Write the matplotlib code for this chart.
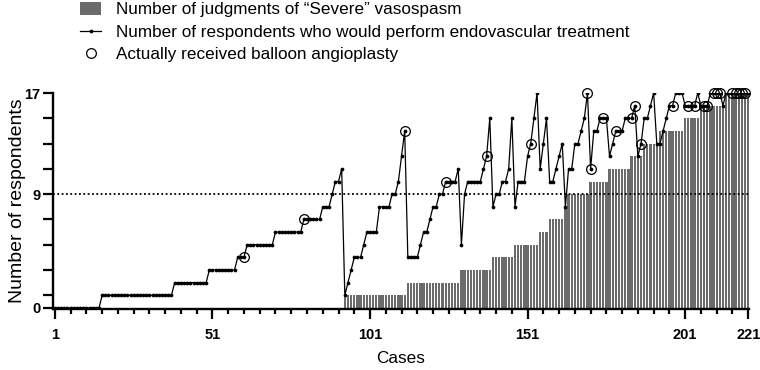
import matplotlib
matplotlib.use("Agg")
import matplotlib.pyplot as plt
from matplotlib.lines import Line2D
from matplotlib.patches import Patch
import numpy as np

plt.rc("font", family=["Liberation Sans", "DejaVu Sans"])

# Cases 1..221
cases = np.arange(1, 222)

# Number of respondents who would perform endovascular treatment (per case)
respondents = [
    0, 0, 0, 0, 0, 0, 0, 0, 0, 0,
    0, 0, 0, 0, 0, 1, 1, 1, 1, 1,
    1, 1, 1, 1, 1, 1, 1, 1, 1, 1,
    1, 1, 1, 1, 1, 1, 1, 1, 2, 2,
    2, 2, 2, 2, 2, 2, 2, 2, 2, 3,
    3, 3, 3, 3, 3, 3, 3, 3, 4, 4,
    4, 5, 5, 5, 5, 5, 5, 5, 5, 5,
    6, 6, 6, 6, 6, 6, 6, 6, 6, 7,
    7, 7, 7, 7, 7, 8, 8, 8, 9, 10,
    10, 11, 1, 2, 3, 4, 4, 4, 5, 6,
    6, 6, 6, 8, 8, 8, 8, 9, 9, 10,
    12, 14, 4, 4, 4, 4, 5, 6, 6, 7,
    8, 8, 9, 9, 10, 10, 10, 10, 11, 5,
    9, 10, 10, 10, 10, 10, 11, 12, 15, 8,
    9, 9, 10, 10, 11, 15, 8, 10, 10, 10,
    12, 13, 15, 17, 11, 13, 15, 10, 10, 11,
    12, 13, 8, 11, 11, 13, 13, 14, 15, 17,
    11, 14, 14, 15, 15, 15, 12, 13, 14, 14,
    14, 15, 15, 15, 16, 12, 13, 15, 15, 16,
    17, 13, 13, 14, 15, 16, 16, 17, 17, 17,
    16, 16, 16, 16, 17, 16, 16, 16, 17, 17,
    17, 17, 16, 17, 17, 17, 17, 17, 17, 17,
    17,
]

# Number of judgments of "Severe" vasospasm (per case)
severe = [
    0, 0, 0, 0, 0, 0, 0, 0, 0, 0,
    0, 0, 0, 0, 0, 0, 0, 0, 0, 0,
    0, 0, 0, 0, 0, 0, 0, 0, 0, 0,
    0, 0, 0, 0, 0, 0, 0, 0, 0, 0,
    0, 0, 0, 0, 0, 0, 0, 0, 0, 0,
    0, 0, 0, 0, 0, 0, 0, 0, 0, 0,
    0, 0, 0, 0, 0, 0, 0, 0, 0, 0,
    0, 0, 0, 0, 0, 0, 0, 0, 0, 0,
    0, 0, 0, 0, 0, 0, 0, 0, 0, 0,
    0, 0, 1, 1, 1, 1, 1, 1, 1, 1,
    1, 1, 1, 1, 1, 1, 1, 1, 1, 1,
    1, 1, 2, 2, 2, 2, 2, 2, 2, 2,
    2, 2, 2, 2, 2, 2, 2, 2, 2, 3,
    3, 3, 3, 3, 3, 3, 3, 3, 3, 4,
    4, 4, 4, 4, 4, 4, 5, 5, 5, 5,
    5, 5, 5, 5, 6, 6, 6, 7, 7, 7,
    7, 7, 8, 9, 9, 9, 9, 9, 9, 9,
    10, 10, 10, 10, 10, 10, 11, 11, 11, 11,
    11, 11, 11, 12, 12, 12, 12, 13, 13, 13,
    13, 13, 14, 14, 14, 14, 14, 14, 14, 14,
    15, 15, 15, 15, 15, 16, 16, 16, 16, 16,
    16, 16, 16, 17, 17, 17, 17, 17, 17, 17,
    17,
]

# Cases that actually received balloon angioplasty
balloon_cases = [61, 80, 112, 125, 138, 152, 170, 171, 175, 179, 184, 185, 187,
                 197, 202, 204, 207, 208, 210, 211, 212, 216, 217, 218, 219, 220]

y_ticks = [0, 9, 17]
y_minor = [1, 3, 5, 7, 11, 13, 15]
x_ticks = [1, 51, 101, 151, 201, 221]

W, H = 760, 370
fig = plt.figure(figsize=(W / 100, H / 100), dpi=100)
ax = fig.add_axes([53 / W, (H - 309.2) / H, 695.5 / W, 216.2 / H])

# Bars
ax.bar(cases, severe, width=0.72, color="#6b6b6b", linewidth=0, zorder=1)

# Reference line at 9
ax.axhline(9, color="black", linestyle=(0, (1, 1.4)), linewidth=1.3, zorder=2)

# Respondents line
ax.plot(cases, respondents, color="black", linewidth=0.9, marker="o",
        markersize=2.7, markerfacecolor="black", markeredgewidth=0, zorder=3)

# Balloon angioplasty circles
resp = np.array(respondents)
bc = np.array(balloon_cases)
ax.plot(bc, resp[bc - 1], linestyle="none", marker="o", markersize=7,
        markerfacecolor="none", markeredgecolor="black", markeredgewidth=0.9,
        zorder=4, clip_on=False)

ax.set_xlim(0.4, 221.1)
ax.set_ylim(-0.1, 17)

for side in ["top", "right"]:
    ax.spines[side].set_visible(False)
for side in ["left", "bottom"]:
    ax.spines[side].set_linewidth(1.7)

ax.set_xticks(x_ticks)
ax.set_xticks(np.arange(6, 221, 5), minor=True)
ax.set_yticks(y_ticks)
ax.set_yticks(y_minor, minor=True)
ax.tick_params(axis="x", which="major", length=7.5, width=1.6, pad=6)
ax.tick_params(axis="x", which="minor", length=3.8, width=1.6)
ax.tick_params(axis="y", which="both", length=7, width=1.6, pad=2)
for lab in ax.get_xticklabels() + ax.get_yticklabels():
    lab.set_fontweight("bold")
    lab.set_fontsize(10.5)

ax.set_xlabel("Cases", fontsize=12.3, labelpad=6.5)
ax.set_ylabel("Number of respondents", fontsize=14, labelpad=-1)

# Legend
handles = [
    Patch(facecolor="#6b6b6b", edgecolor="none"),
    Line2D([], [], color="black", linewidth=0.9, marker="o", markersize=2.7,
           markeredgewidth=0),
    Line2D([], [], linestyle="none", marker="o", markersize=7,
           markerfacecolor="none", markeredgecolor="black", markeredgewidth=0.9),
]
labels = [
    "Number of judgments of \u201cSevere\u201d vasospasm",
    "Number of respondents who would perform endovascular treatment",
    "Actually received balloon angioplasty",
]
fig.legend(handles, labels, loc="upper left", bbox_to_anchor=(80 / W, 1 - 2 / H),
           frameon=False, prop={"size": 12.3},
           handlelength=1.25, handleheight=0.8, handletextpad=0.85,
           labelspacing=0.4, borderpad=0, borderaxespad=0)

fig.savefig("out.png", dpi=100)
plt.close(fig)
